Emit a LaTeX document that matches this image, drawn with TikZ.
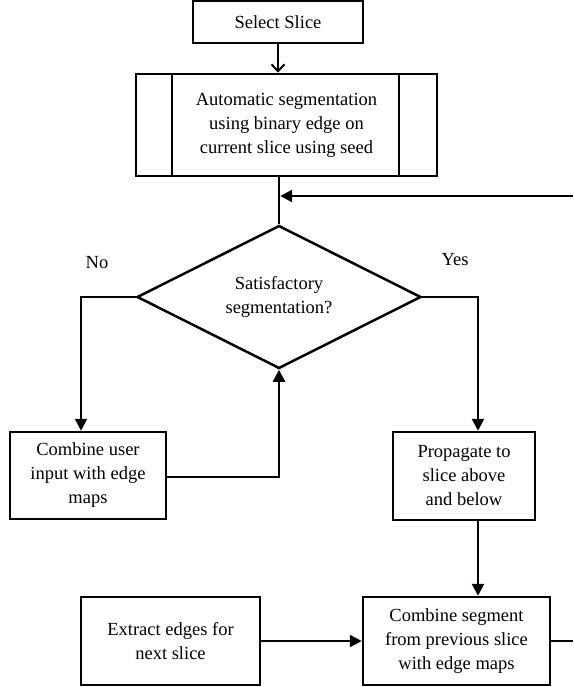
\documentclass[tikz,border=0pt]{standalone}
\usepackage{fontspec}
\setmainfont{Liberation Serif}
\usetikzlibrary{arrows.meta,shapes.geometric,calc}

\begin{document}
\begin{tikzpicture}[x=1pt, y=-1pt,
    line width=2.5pt,
    every node/.style={font=\fontsize{18.5}{24}\selectfont},
    procbox/.style={draw, rectangle, align=center, inner sep=2pt},
    decbox/.style={draw, diamond, aspect=2, align=center, inner sep=0pt,
        minimum width=284pt, minimum height=143pt},
    flow/.style={-{Triangle[length=12pt, width=12pt]}},
    thinflow/.style={-{Straight Barb[length=7pt, width=13pt, line width=2pt]}}]
    \useasboundingbox (0,0) rectangle (573,687);

    % Top of the chain
    \node[procbox, minimum width=170pt, minimum height=42pt] (select) at (278,22) {Select Slice};
    \node[procbox, minimum width=301pt, minimum height=102pt] (auto) at (286.5,125)
        {Automatic segmentation\\using binary edge on\\current slice using seed};
    % Side bars of the predefined process
    \foreach \dx in {37, 264} {
        \draw ($(auto.north west) + (\dx,0)$) -- ($(auto.south west) + (\dx,0)$);
    }

    % Decision
    \node[decbox] (sat) at (279,297) {Satisfactory\\segmentation?};
    \node (no) at (97,263) {No};
    \node (yes) at (455,260) {Yes};

    % Branches
    \node[procbox, minimum width=156pt, minimum height=87pt] (cuser) at (88,475.5)
        {Combine user\\input with edge\\maps};
    \node[procbox, minimum width=142pt, minimum height=88pt] (prop) at (464,476)
        {Propagate to\\slice above\\and below};

    % Bottom row
    \node[procbox, minimum width=179pt, minimum height=88pt] (extract) at (170.5,641)
        {Extract edges for\\next slice};
    \node[procbox, minimum width=187pt, minimum height=88pt] (cseg) at (456.5,641)
        {Combine segment\\from previous slice\\with edge maps};

    % Loose ends at the right border
    \coordinate (edgein) at (573,196);
    \coordinate (edgeout) at (573,641);

    % Connectors
    \draw[thinflow] (select.south) -- (select.south |- auto.north);
    \draw (auto.south -| sat.north) -- (sat.north);
    \draw[flow] (edgein) -- ($(sat.north |- edgein) + (1.2,0)$);
    \draw[flow] (sat.west) -| (81,0 |- cuser.north);
    \draw[flow] (sat.east) -| (478,0 |- prop.north);
    \draw[flow] (cuser.east |- 0,477) -| (sat.south);
    \draw[flow] (prop.south -| 478,0) -- (cseg.north -| 478,0);
    \draw[flow] (extract.east) -- (cseg.west);
    \draw (cseg.east) -- (edgeout);
\end{tikzpicture}
\end{document}
